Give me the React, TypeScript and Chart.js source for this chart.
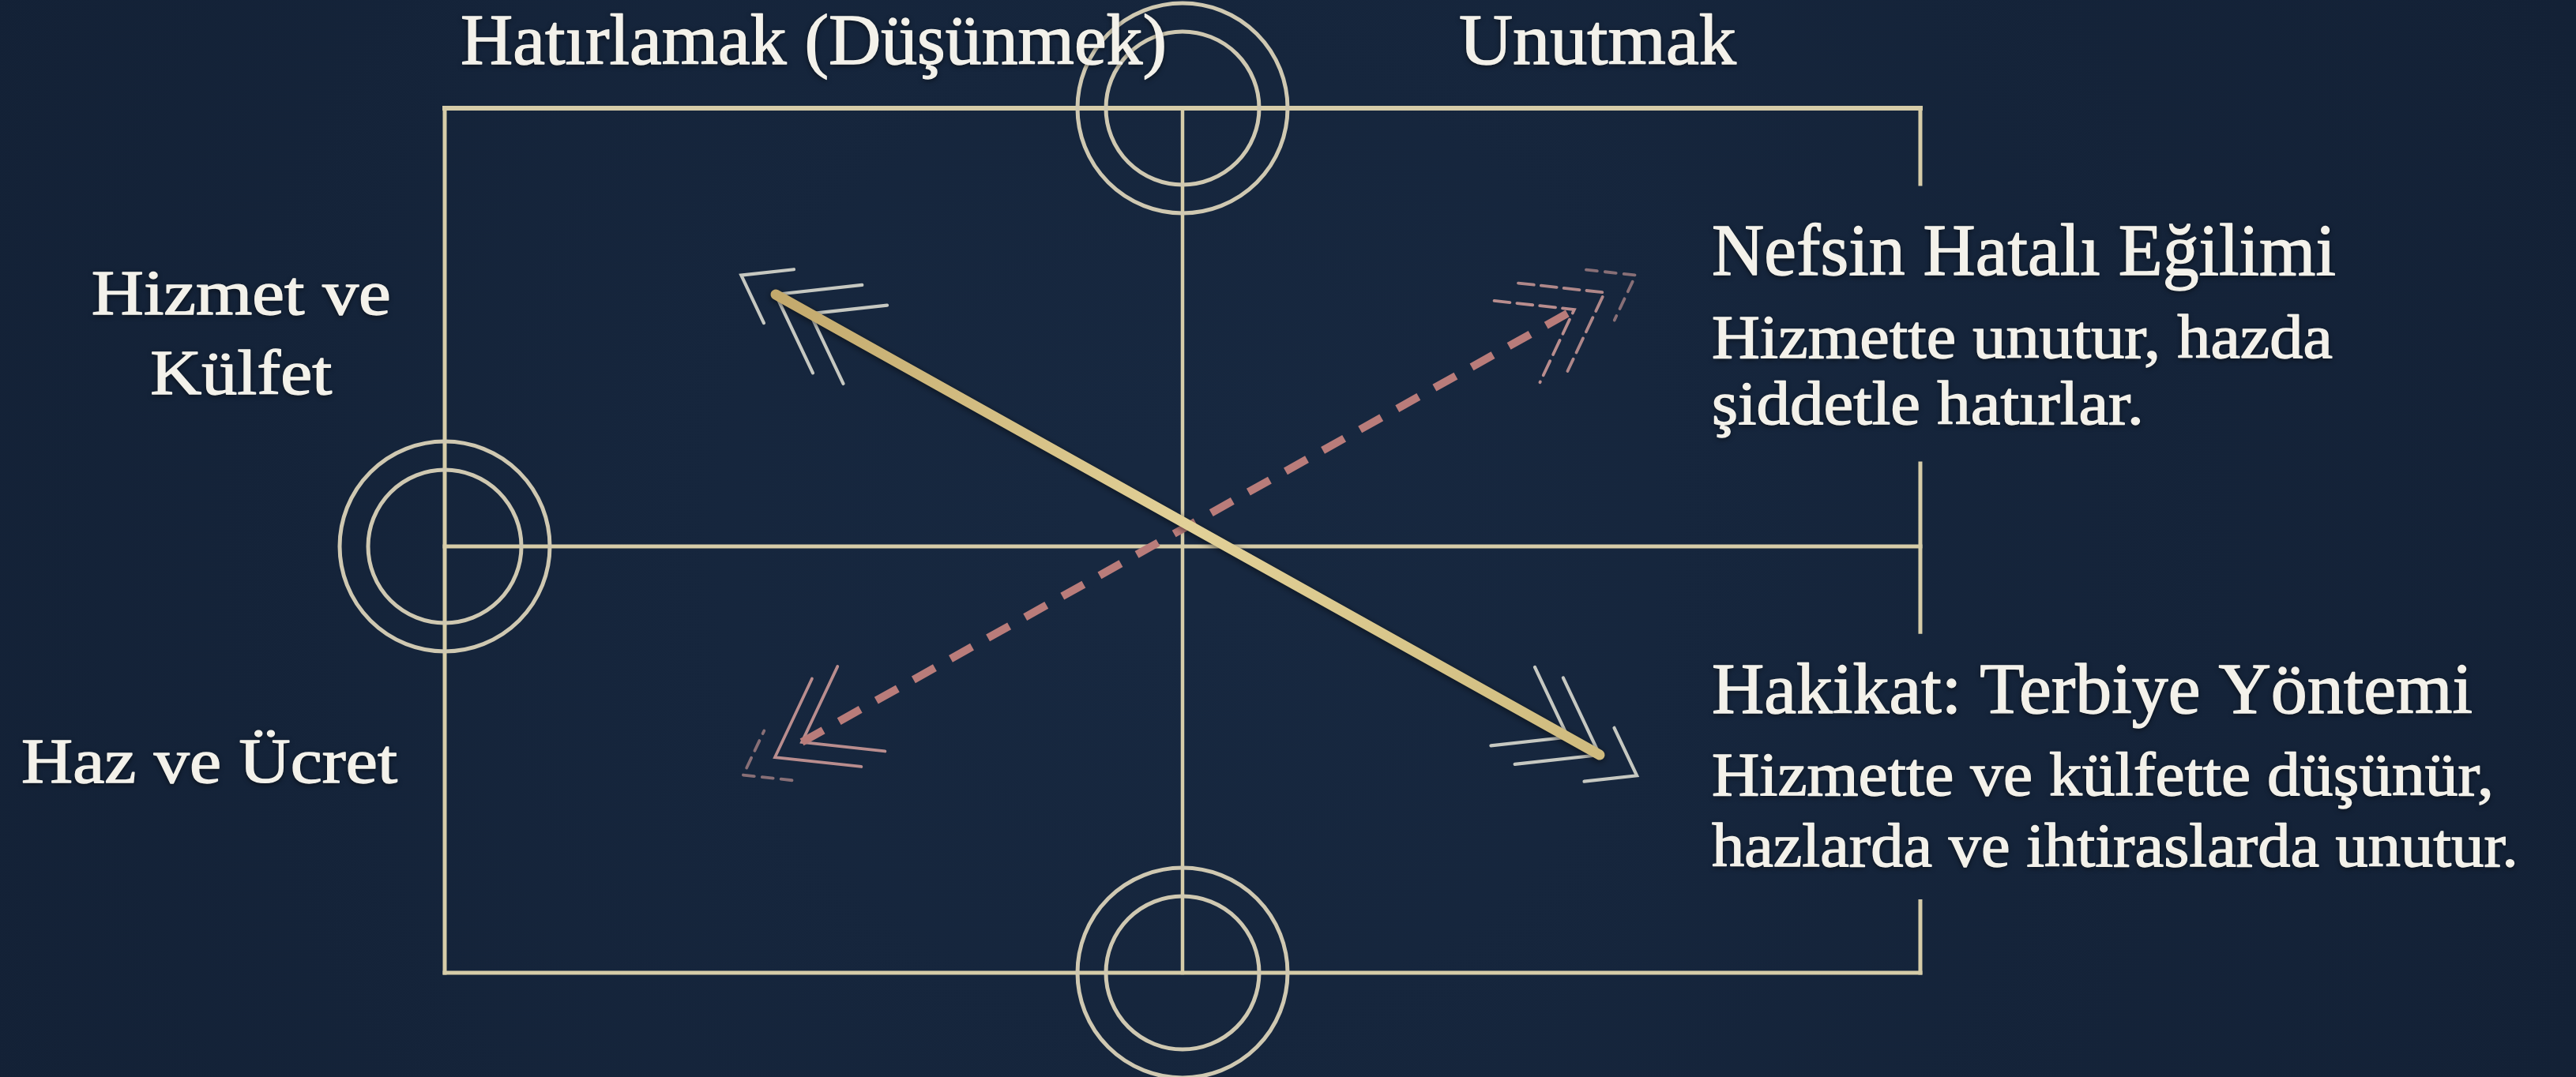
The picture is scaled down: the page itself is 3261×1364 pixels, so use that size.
import React, { useEffect, useRef } from "react";
import { Chart, registerables } from "chart.js";

Chart.register(...registerables);

const CANVAS_W = 3261;
const CANVAS_H = 1364;

// ---------- data (diagram units: frame spans x -1..1, top edge y = 1, midline y = 0) ----------
const frameX = [-1, 0, 1]; // left edge, centre axis, right edge
const frameY = [1, 0, -0.973]; // top edge, midline, bottom edge
const rightEdgePieces = [1, 0.827, 0.189, -0.195, -0.81, -0.973]; // visible pieces of the right edge (pairs)
const nodeX = [0, -1, 0];
const nodeY = [1, 0, -0.973];
const truthArrowX = [-0.5514, 0.5653];
const truthArrowY = [0.5748, -0.4757];
const egoArrowX = [-0.516, 0.531];
const egoArrowY = [-0.4468, 0.5405];

const topLabels = ["Hatırlamak (Düşünmek)", "Unutmak"];
const sideLabels = ["Hizmet ve", "Külfet", "Haz ve Ücret"];
const egoTitle = "Nefsin Hatalı Eğilimi";
const egoText = ["Hizmette unutur, hazda", "şiddetle hatırlar."];
const truthTitle = "Hakikat: Terbiye Yöntemi";
const truthText = ["Hizmette ve külfette düşünür,", "hazlarda ve ihtiraslarda unutur."];

// ---------- layout / style ----------
const X_MIN = -1.6028;
const X_MAX = 1.8887;
const Y_MIN = -1.2108;
const Y_MAX = 1.2468;

const BG = "#15243a";
const FRAME_COLOR = "#d6cca8";
const RING_COLOR = "#cfc8b1";
const EGO_COLOR = "#b97c7a";

type TextSpec = { text: string; u: number; v: number; size: number; width: number; align: "left" | "center" };
const RIGHT_U = 0.7173;
const textLayout: TextSpec[] = [
  { text: topLabels[0], u: -0.9786, v: 1.1009, size: 92, width: 894, align: "left" },
  { text: topLabels[1], u: 0.3747, v: 1.1009, size: 92, width: 351, align: "left" },
  { text: sideLabels[0], u: -1.276, v: 0.5297, size: 80, width: 379, align: "center" },
  { text: sideLabels[1], u: -1.276, v: 0.3477, size: 80, width: 230, align: "center" },
  { text: sideLabels[2], u: -1.5739, v: -0.5387, size: 80, width: 476, align: "left" },
  { text: egoTitle, u: RIGHT_U, v: 0.6198, size: 93, width: 790, align: "left" },
  { text: egoText[0], u: RIGHT_U, v: 0.4306, size: 79, width: 786, align: "left" },
  { text: egoText[1], u: RIGHT_U, v: 0.2793, size: 79, width: 547, align: "left" },
  { text: truthTitle, u: RIGHT_U, v: -0.3802, size: 91, width: 963, align: "left" },
  { text: truthText[0], u: RIGHT_U, v: -0.5676, size: 79, width: 990, align: "left" },
  { text: truthText[1], u: RIGHT_U, v: -0.7297, size: 79, width: 1021, align: "left" },
];

type Mark = { off: number; len: number; alpha: number; dash: number[] };
type HeadSpec = { color: string; width: number; start: Mark[]; end: Mark[] };
const headSpecs: Record<string, HeadSpec> = {
  truth: {
    color: "214,214,204",
    width: 4.2,
    start: [
      { off: 0, len: 110, alpha: 0.92, dash: [] },
      { off: -50, len: 98, alpha: 0.92, dash: [] },
      { off: 50, len: 67, alpha: 0.92, dash: [] },
    ],
    end: [
      { off: 0, len: 108, alpha: 0.92, dash: [] },
      { off: -46, len: 98, alpha: 0.92, dash: [] },
      { off: 54, len: 67, alpha: 0.92, dash: [] },
    ],
  },
  ego: {
    color: "214,160,156",
    width: 3.8,
    start: [
      { off: 0, len: 106, alpha: 0.85, dash: [] },
      { off: 39, len: 110, alpha: 0.85, dash: [] },
      { off: 85, len: 62, alpha: 0.6, dash: [14, 10] },
    ],
    end: [
      { off: 0, len: 102, alpha: 0.85, dash: [20, 9] },
      { off: 44, len: 110, alpha: 0.8, dash: [20, 9] },
      { off: 89, len: 63, alpha: 0.6, dash: [14, 10] },
    ],
  },
};
const HEAD_ANGLE = (35.5 * Math.PI) / 180;

const pt = (x: number, y: number) => ({ x, y });

const segment = (a: { x: number; y: number }, b: { x: number; y: number }, width = 5) => ({
  type: "scatter" as const,
  data: [a, b],
  showLine: true,
  pointRadius: 0,
  borderColor: FRAME_COLOR,
  borderWidth: width,
  borderCapStyle: "square" as const,
  order: 4,
  clip: false as const,
});

const backgroundPlugin = {
  id: "bg",
  beforeDraw(chart: any) {
    const { ctx, width, height } = chart;
    ctx.save();
    const g = ctx.createRadialGradient(width * 0.45, height * 0.5, 100, width * 0.5, height * 0.5, width * 0.7);
    g.addColorStop(0, "#172840");
    g.addColorStop(1, "#121f33");
    ctx.fillStyle = g;
    ctx.fillRect(0, 0, width, height);
    ctx.restore();
  },
};

const shadowPlugin = {
  id: "shaftShadow",
  beforeDatasetDraw(chart: any, args: any) {
    const ds = chart.data.datasets[args.index];
    if (ds.label === "truth") {
      chart.ctx.save();
      chart.ctx.shadowColor = "rgba(0,0,0,0.55)";
      chart.ctx.shadowBlur = 8;
      chart.ctx.shadowOffsetY = 2;
    }
  },
  afterDatasetDraw(chart: any, args: any) {
    const ds = chart.data.datasets[args.index];
    if (ds.label === "truth") chart.ctx.restore();
  },
};

const arrowHeadPlugin = {
  id: "arrowHeads",
  beforeDatasetsDraw(chart: any) {
    const ctx = chart.ctx;
    chart.data.datasets.forEach((ds: any, i: number) => {
      const spec = headSpecs[ds.label];
      if (!spec) return;
      const meta = chart.getDatasetMeta(i);
      const p0 = meta.data[0];
      const p1 = meta.data[1];
      if (!p0 || !p1) return;
      const ends = [
        { tip: p0, from: p1, marks: spec.start },
        { tip: p1, from: p0, marks: spec.end },
      ];
      ends.forEach(({ tip, from, marks }) => {
        const dx = tip.x - from.x;
        const dy = tip.y - from.y;
        const l = Math.hypot(dx, dy);
        const fx = dx / l;
        const fy = dy / l;
        const bx = -fx;
        const by = -fy;
        marks.forEach((m) => {
          const vx = tip.x + fx * m.off;
          const vy = tip.y + fy * m.off;
          const arm = (ang: number) => {
            const c = Math.cos(ang);
            const s = Math.sin(ang);
            return { x: vx + (bx * c - by * s) * m.len, y: vy + (bx * s + by * c) * m.len };
          };
          const a1 = arm(HEAD_ANGLE);
          const a2 = arm(-HEAD_ANGLE);
          ctx.save();
          ctx.strokeStyle = `rgba(${spec.color},${m.alpha})`;
          ctx.lineWidth = spec.width;
          ctx.lineJoin = "miter";
          ctx.lineCap = "round";
          ctx.setLineDash(m.dash);
          ctx.beginPath();
          ctx.moveTo(a1.x, a1.y);
          ctx.lineTo(vx, vy);
          ctx.lineTo(a2.x, a2.y);
          ctx.stroke();
          ctx.restore();
        });
      });
    });
  },
};

const textPlugin = {
  id: "labels",
  afterDatasetsDraw(chart: any) {
    const ctx = chart.ctx;
    const xs = chart.scales.x;
    const ys = chart.scales.y;
    textLayout.forEach((t) => {
      const px = xs.getPixelForValue(t.u);
      const py = ys.getPixelForValue(t.v);
      ctx.save();
      ctx.font = `${t.size}px "Liberation Serif", "DejaVu Serif", serif`;
      ctx.textBaseline = "alphabetic";
      ctx.textAlign = "left";
      const w = ctx.measureText(t.text).width;
      const sx = t.width / w;
      ctx.translate(px, py);
      ctx.scale(sx, 1);
      const ox = t.align === "center" ? -w / 2 : 0;
      ctx.shadowColor = "rgba(0,0,0,0.65)";
      ctx.shadowBlur = 6;
      ctx.shadowOffsetY = 2;
      ctx.fillStyle = "#f3f1ea";
      ctx.fillText(t.text, ox, 0);
      ctx.shadowColor = "rgba(0,0,0,0)";
      ctx.strokeStyle = "#f3f1ea";
      ctx.lineWidth = 1.4;
      ctx.lineJoin = "round";
      ctx.strokeText(t.text, ox, 0);
      ctx.restore();
    });
  },
};

export default function App() {
  const ref = useRef<HTMLCanvasElement>(null);

  useEffect(() => {
    document.body.style.margin = "0";
    document.body.style.background = BG;
    document.body.style.overflow = "hidden";
    const canvas = ref.current;
    if (!canvas) return;

    const rightSegs = [];
    for (let i = 0; i < rightEdgePieces.length; i += 2) {
      rightSegs.push(segment(pt(frameX[2], rightEdgePieces[i]), pt(frameX[2], rightEdgePieces[i + 1])));
    }

    const nodes = nodeX.map((x, i) => pt(x, nodeY[i]));

    const datasets: any[] = [
      {
        label: "truth",
        data: [pt(truthArrowX[0], truthArrowY[0]), pt(truthArrowX[1], truthArrowY[1])],
        showLine: true,
        pointRadius: 0,
        borderWidth: 13,
        borderCapStyle: "round",
        order: 0,
        clip: false,
        borderColor: (c: any) => {
          const chart = c.chart;
          if (!chart.chartArea || !chart.scales.x) return "#d6c288";
          const x0 = chart.scales.x.getPixelForValue(truthArrowX[0]);
          const y0 = chart.scales.y.getPixelForValue(truthArrowY[0]);
          const x1 = chart.scales.x.getPixelForValue(truthArrowX[1]);
          const y1 = chart.scales.y.getPixelForValue(truthArrowY[1]);
          const g = chart.ctx.createLinearGradient(x0, y0, x1, y1);
          g.addColorStop(0, "#c3a96c");
          g.addColorStop(0.5, "#e2d198");
          g.addColorStop(1, "#cfbb7e");
          return g;
        },
      },
      {
        label: "ego",
        data: [pt(egoArrowX[0], egoArrowY[0]), pt(egoArrowX[1], egoArrowY[1])],
        showLine: true,
        pointRadius: 0,
        borderWidth: 10,
        borderColor: EGO_COLOR,
        borderDash: [31, 23],
        borderCapStyle: "butt",
        order: 1,
        clip: false,
      },
      {
        label: "outer rings",
        data: nodes,
        showLine: false,
        pointRadius: 133,
        pointBorderWidth: 5,
        pointBorderColor: RING_COLOR,
        pointBackgroundColor: "rgba(0,0,0,0)",
        pointStyle: "circle",
        order: 2,
        clip: false,
      },
      {
        label: "inner rings",
        data: nodes,
        showLine: false,
        pointRadius: 97,
        pointBorderWidth: 5,
        pointBorderColor: RING_COLOR,
        pointBackgroundColor: "rgba(0,0,0,0)",
        pointStyle: "circle",
        order: 2,
        clip: false,
      },
      segment(pt(frameX[0], frameY[0]), pt(frameX[2], frameY[0]), 6),
      segment(pt(frameX[0], frameY[1]), pt(frameX[2], frameY[1])),
      segment(pt(frameX[0], frameY[2]), pt(frameX[2], frameY[2])),
      segment(pt(frameX[0], frameY[0]), pt(frameX[0], frameY[2])),
      segment(pt(frameX[1], frameY[0]), pt(frameX[1], frameY[2]), 4.5),
      ...rightSegs,
    ];

    const chart = new Chart(canvas, {
      type: "scatter",
      data: { datasets },
      options: {
        responsive: false,
        maintainAspectRatio: false,
        devicePixelRatio: 1,
        animation: false,
        events: [],
        layout: { padding: 0, autoPadding: false },
        plugins: { legend: { display: false }, tooltip: { enabled: false }, title: { display: false } },
        scales: {
          x: { type: "linear", min: X_MIN, max: X_MAX, display: false, bounds: "data" },
          y: { type: "linear", min: Y_MIN, max: Y_MAX, display: false, bounds: "data" },
        },
      } as any,
      plugins: [backgroundPlugin, shadowPlugin, arrowHeadPlugin, textPlugin],
    });

    return () => chart.destroy();
  }, []);

  return (
    <div style={{ width: CANVAS_W, height: CANVAS_H }}>
      <canvas
        ref={ref}
        width={CANVAS_W}
        height={CANVAS_H}
        style={{ display: "block", width: CANVAS_W, height: CANVAS_H }}
      />
    </div>
  );
}
